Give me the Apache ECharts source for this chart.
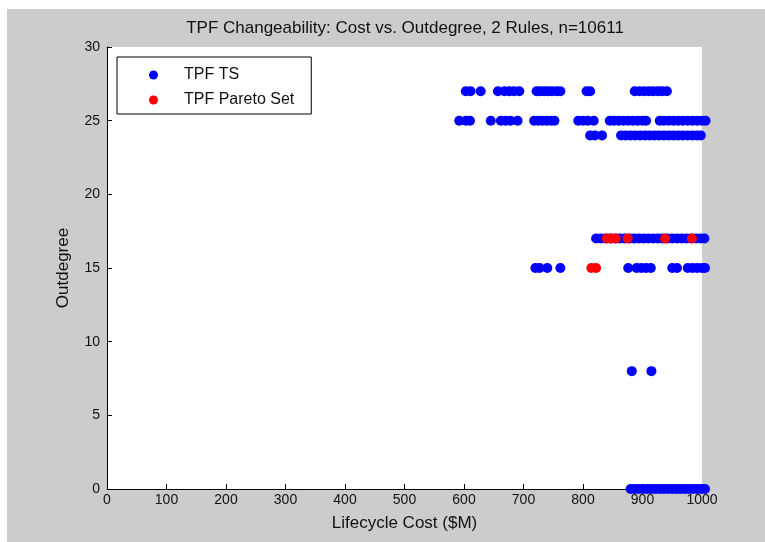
<!DOCTYPE html>
<html>
<head>
<meta charset="utf-8">
<title>TPF Changeability</title>
<script src="https://cdn.jsdelivr.net/npm/echarts@6/dist/echarts.min.js"></script>
<style>
	body {
		margin: 0;
		background: #ffffff;
	}
	#chart {
		position: absolute;
		left: 7px;
		top: 9px;
		width: 758px;
		height: 533px;
	}
</style>
</head>
<body>
<div id="chart"></div>
<script>
	// costs ($M) of the tradespace designs, one list per outdegree level
	var ts27 = [603, 611, 628, 657, 668, 676, 684, 693, 722, 728, 735, 741, 748, 756, 762, 806, 812,
		887, 895, 903, 911, 918, 926, 933, 941];
	var ts25 = [592, 603, 610, 645, 662, 670, 678, 690, 718, 725, 732, 739, 746, 752, 792, 800, 808, 818,
		845, 852, 860, 868, 876, 884, 892, 900, 906, 929, 936, 944, 952, 960, 968, 976, 984, 992, 1000, 1006];
	var ts24 = [812, 820, 832, 864, 872, 880, 888, 896, 904, 912, 920, 928, 936, 944, 952, 960, 968, 976, 984, 992, 998];
	var ts17 = [822, 830, 838, 846, 855, 862, 870, 878, 886, 894, 902, 910, 918, 926, 934, 942, 950, 958,
		966, 974, 982, 990, 998, 1004];
	var ts15 = [720, 727, 740, 762, 876, 890, 898, 906, 914, 950, 958, 976, 984, 992, 1000, 1005];
	var ts8 = [882, 915];
	var ts0 = [880, 887, 894, 901, 908, 915, 922, 929, 936, 943, 950, 957, 964, 971, 978, 985, 992, 999, 1005];

	// pareto set designs
	var pareto17 = [840, 848, 855, 875, 938, 983];
	var pareto15 = [814, 822];

	var xTicks = [0, 1000, 100];
	var yTicks = [0, 30, 5];

	function pts(costs, deg) {
		return costs.map(function(c) { return [c, deg]; });
	}

	var tsData = [].concat(pts(ts27, 27), pts(ts25, 25), pts(ts24, 24), pts(ts17, 17),
		pts(ts15, 15), pts(ts8, 8), pts(ts0, 0));
	var paretoData = [].concat(pts(pareto17, 17), pts(pareto15, 15));

	var mychart = echarts.init(document.getElementById('chart'));
	var font = "'Liberation Sans', Arial, sans-serif";

	var option = {
		backgroundColor: '#cccccc',
		animation: false,
		title: {
			text: 'TPF Changeability: Cost vs. Outdegree, 2 Rules, n=10611',
			left: 398,
			top: 11,
			padding: 0,
			textAlign: 'center',
			textStyle: {
				fontFamily: font,
				fontSize: 17,
				fontWeight: 'normal',
				color: '#111'
			}
		},
		legend: {
			orient: 'vertical',
			left: 110,
			top: 48,
			padding: [10, 17, 6, 32],
			itemGap: 9,
			itemWidth: 9,
			itemHeight: 9,
			backgroundColor: '#ffffff',
			borderColor: '#000000',
			borderWidth: 1,
			borderRadius: 0,
			textStyle: {
				fontFamily: font,
				fontSize: 16,
				color: '#111',
				padding: [0, 0, 0, 21]
			},
			data: [{ name: 'TPF TS', icon: 'circle' }, { name: 'TPF Pareto Set', icon: 'circle' }]
		},
		grid: {
			left: 100,
			right: 63,
			top: 38,
			bottom: 53,
			show: true,
			backgroundColor: '#ffffff',
			borderWidth: 0
		},
		xAxis: {
			type: 'value',
			min: xTicks[0],
			max: xTicks[1],
			interval: xTicks[2],
			name: 'Lifecycle Cost ($M)',
			nameLocation: 'middle',
			nameGap: 26,
			nameTextStyle: { fontFamily: font, fontSize: 17, color: '#111' },
			splitLine: { show: false },
			axisLine: { lineStyle: { color: '#000', width: 1 } },
			axisTick: { inside: true, length: 5, lineStyle: { color: '#000' } },
			axisLabel: {
				margin: 4, fontFamily: font, fontSize: 14, color: '#111',
				formatter: function(v) { return String(v); }
			}
		},
		yAxis: {
			type: 'value',
			min: yTicks[0],
			max: yTicks[1],
			interval: yTicks[2],
			name: 'Outdegree',
			nameLocation: 'middle',
			nameGap: 35,
			nameTextStyle: { fontFamily: font, fontSize: 17, color: '#111' },
			splitLine: { show: false },
			axisLine: { lineStyle: { color: '#000', width: 1 } },
			axisTick: { inside: true, length: 5, lineStyle: { color: '#000' } },
			axisLabel: { margin: 7, fontFamily: font, fontSize: 14, color: '#111' }
		},
		series: [
			{
				name: 'TPF TS',
				type: 'scatter',
				symbol: 'circle',
				symbolSize: 10,
				clip: false,
				itemStyle: { color: '#0000ff', opacity: 1 },
				data: tsData
			},
			{
				name: 'TPF Pareto Set',
				type: 'scatter',
				symbol: 'circle',
				symbolSize: 10,
				clip: false,
				itemStyle: { color: '#ff0000', opacity: 1 },
				data: paretoData
			}
		]
	};
	mychart.setOption(option, true);
</script>
</body>
</html>
